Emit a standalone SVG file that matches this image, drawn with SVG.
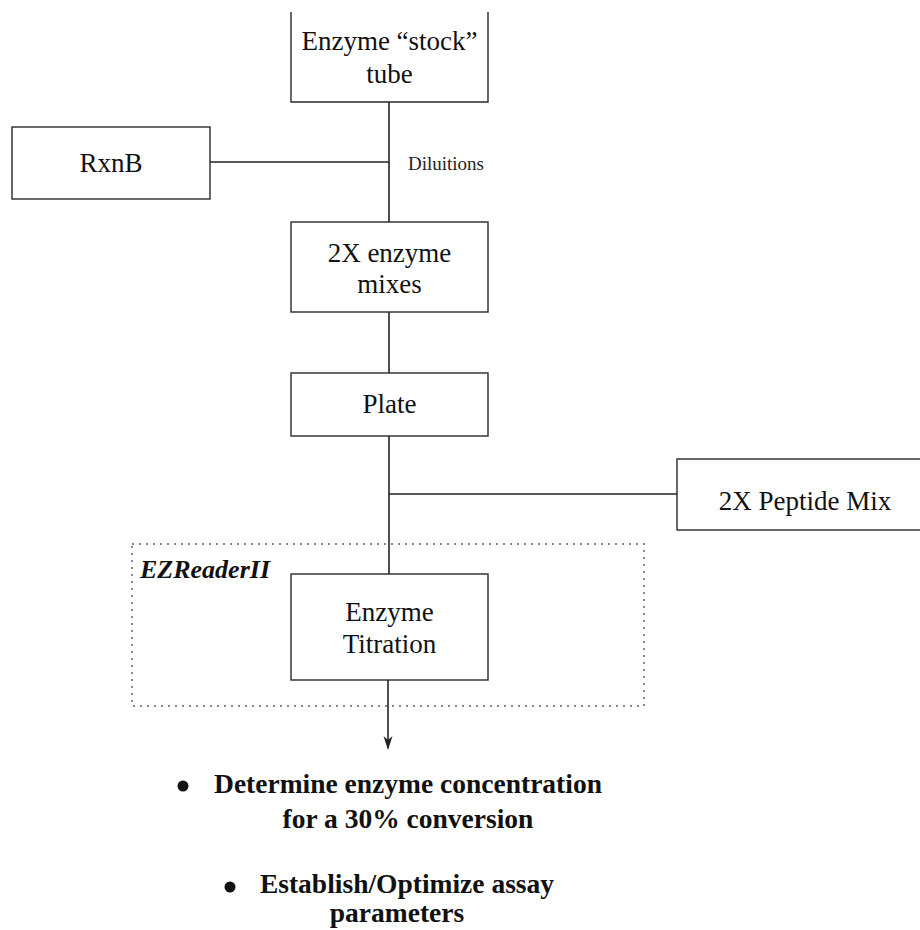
<svg xmlns="http://www.w3.org/2000/svg" width="920" height="930" viewBox="0 0 920 930">
  <style>
    .box { fill: #ffffff; stroke: #2a2a2a; stroke-width: 1.4; }
    .wire { fill: none; stroke: #222222; stroke-width: 1.6; }
    .label { font-family: "Liberation Serif", "Times New Roman", serif; font-size: 27px; fill: #111111; text-anchor: middle; }
    .note { font-family: "Liberation Serif", "Times New Roman", serif; font-size: 19px; fill: #222222; }
    .group-title { font-family: "Liberation Serif", "Times New Roman", serif; font-size: 26px; font-weight: bold; font-style: italic; fill: #111111; }
    .bullet-text { font-family: "Liberation Serif", "Times New Roman", serif; font-size: 27.5px; font-weight: bold; fill: #111111; text-anchor: middle; }
    .frame { fill: none; stroke: #8a8a8a; stroke-width: 2; stroke-dasharray: 2 5; }
  </style>

  <rect width="920" height="930" fill="#ffffff"/>

  <!-- instrument frame -->
  <g id="ezreader">
    <rect class="frame" x="132" y="544" width="512" height="162"/>
    <text class="group-title" x="140" y="578">EZReaderII</text>
  </g>

  <!-- connectors -->
  <g id="connectors">
    <line class="wire" x1="389" y1="102" x2="389" y2="222"/>
    <line class="wire" x1="210" y1="162" x2="389" y2="162"/>
    <line class="wire" x1="389" y1="312" x2="389" y2="373"/>
    <line class="wire" x1="389" y1="436" x2="389" y2="574"/>
    <line class="wire" x1="389" y1="494" x2="677" y2="494"/>
    <line class="wire" x1="388" y1="680" x2="388" y2="748"/>
    <path d="M383.5,736 L388,750 L392.5,736 L388,740 Z" fill="#222222"/>
    <text class="note" x="408" y="170">Diluitions</text>
  </g>

  <g id="stock-tube">
    <path class="box" d="M291,12 V102 H488 V12"/>
    <text class="label" x="389.5" y="50">Enzyme “stock”</text>
    <text class="label" x="389.5" y="83">tube</text>
  </g>

  <g id="rxnb">
    <rect class="box" x="12" y="127" width="198" height="72"/>
    <text class="label" x="111" y="172">RxnB</text>
  </g>

  <g id="enzyme-mixes">
    <rect class="box" x="291" y="222" width="197" height="90"/>
    <text class="label" x="389.5" y="262">2X enzyme</text>
    <text class="label" x="389.5" y="293">mixes</text>
  </g>

  <g id="plate">
    <rect class="box" x="291" y="373" width="197" height="63"/>
    <text class="label" x="389.5" y="413">Plate</text>
  </g>

  <g id="peptide-mix">
    <rect class="box" x="677" y="459" width="256" height="71"/>
    <text class="label" x="805" y="510">2X Peptide Mix</text>
  </g>

  <g id="enzyme-titration">
    <rect class="box" x="291" y="574" width="197" height="106"/>
    <text class="label" x="389.5" y="621">Enzyme</text>
    <text class="label" x="389.5" y="653">Titration</text>
  </g>

  <!-- outcomes -->
  <g id="outcomes">
    <circle cx="183" cy="786" r="5.5" fill="#111111"/>
    <text class="bullet-text" x="408" y="793">Determine enzyme concentration</text>
    <text class="bullet-text" x="408" y="828">for a 30% conversion</text>
    <circle cx="230" cy="887" r="5.5" fill="#111111"/>
    <text class="bullet-text" x="407" y="893">Establish/Optimize assay</text>
    <text class="bullet-text" x="397" y="922">parameters</text>
  </g>
</svg>
